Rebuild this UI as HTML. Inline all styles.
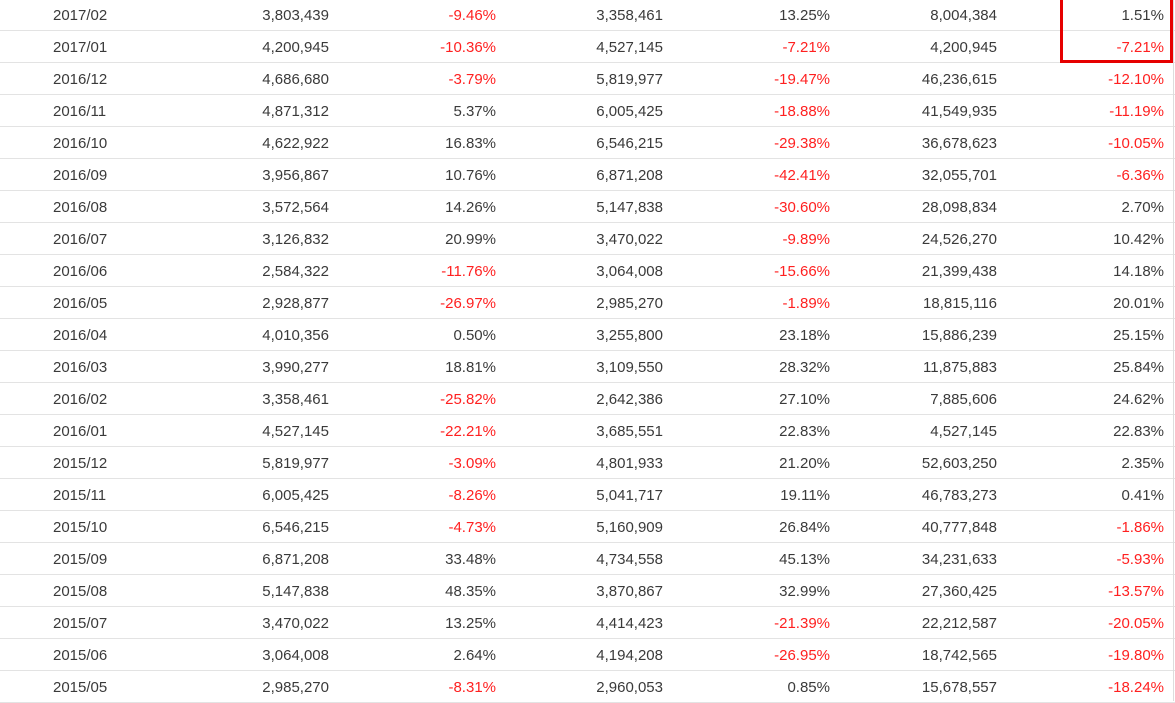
<!DOCTYPE html>
<html><head><meta charset="utf-8"><style>
body{margin:0;width:1175px;height:701px;overflow:hidden;background:#fff;font-family:"Liberation Sans",Arial,sans-serif;font-size:15px;color:#3a3a3a;position:relative}
.row{position:absolute;left:0;width:1175px;height:32px;border-bottom:1px solid #e3e3e3;box-sizing:border-box}
.c{position:absolute;top:8px;white-space:nowrap}
.neg{color:#ff2020}
#box{position:absolute;left:1060px;top:-4px;width:113px;height:67px;border:3px solid #e60000;box-sizing:border-box}
#vline{position:absolute;left:1173px;top:0;width:1px;height:701px;background:#ddd}
</style></head><body>
<div id="vline"></div>
<div id="box"></div>
<script>
const dates=["2017/02","2017/01","2016/12","2016/11","2016/10","2016/09","2016/08","2016/07","2016/06","2016/05","2016/04","2016/03","2016/02","2016/01","2015/12","2015/11","2015/10","2015/09","2015/08","2015/07","2015/06","2015/05"];
const col1=["3,803,439","4,200,945","4,686,680","4,871,312","4,622,922","3,956,867","3,572,564","3,126,832","2,584,322","2,928,877","4,010,356","3,990,277","3,358,461","4,527,145","5,819,977","6,005,425","6,546,215","6,871,208","5,147,838","3,470,022","3,064,008","2,985,270"];
const col2=["-9.46%","-10.36%","-3.79%","5.37%","16.83%","10.76%","14.26%","20.99%","-11.76%","-26.97%","0.50%","18.81%","-25.82%","-22.21%","-3.09%","-8.26%","-4.73%","33.48%","48.35%","13.25%","2.64%","-8.31%"];
const col3=["3,358,461","4,527,145","5,819,977","6,005,425","6,546,215","6,871,208","5,147,838","3,470,022","3,064,008","2,985,270","3,255,800","3,109,550","2,642,386","3,685,551","4,801,933","5,041,717","5,160,909","4,734,558","3,870,867","4,414,423","4,194,208","2,960,053"];
const col4=["13.25%","-7.21%","-19.47%","-18.88%","-29.38%","-42.41%","-30.60%","-9.89%","-15.66%","-1.89%","23.18%","28.32%","27.10%","22.83%","21.20%","19.11%","26.84%","45.13%","32.99%","-21.39%","-26.95%","0.85%"];
const col5=["8,004,384","4,200,945","46,236,615","41,549,935","36,678,623","32,055,701","28,098,834","24,526,270","21,399,438","18,815,116","15,886,239","11,875,883","7,885,606","4,527,145","52,603,250","46,783,273","40,777,848","34,231,633","27,360,425","22,212,587","18,742,565","15,678,557"];
const col6=["1.51%","-7.21%","-12.10%","-11.19%","-10.05%","-6.36%","2.70%","10.42%","14.18%","20.01%","25.15%","25.84%","24.62%","22.83%","2.35%","0.41%","-1.86%","-5.93%","-13.57%","-20.05%","-19.80%","-18.24%"];
const cols=[col1,col2,col3,col4,col5,col6];
const rights=[329,496,663,830,997,1164];
dates.forEach((d,i)=>{
  const r=document.createElement('div');
  
  
  r.className='row';r.style.top=(-1+i*32)+'px';
  const dc=document.createElement('div');
  
  
  dc.className='c';dc.style.left='53px';dc.textContent=d;r.appendChild(dc);
  cols.forEach((c,j)=>{
    const e=document.createElement('div');
    
    
    e.className='c'+(c[i].startsWith('-')?' neg':'');
    e.style.right=(1175-rights[j])+'px';e.textContent=c[i];r.appendChild(e);
  });
  document.body.insertBefore(r,document.getElementById('vline'));
});
</script>
</body></html>
